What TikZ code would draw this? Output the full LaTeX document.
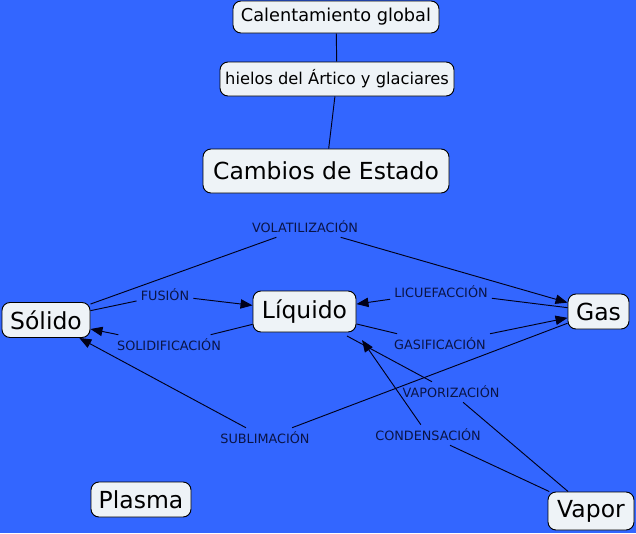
\documentclass[tikz,border=0pt]{standalone}
\usepackage{fontspec}
\setmainfont{DejaVu Sans}
\usetikzlibrary{arrows.meta}
\definecolor{bg}{RGB}{51,102,255}
\definecolor{boxfill}{RGB}{238,243,247}
\definecolor{labtext}{RGB}{10,20,70}
\tikzset{
  concept/.style={draw=black, fill=boxfill, rounded corners=6pt, line width=0.7pt, inner sep=1pt, text=black},
  big/.style={concept, font=\fontsize{17.6}{20}\selectfont},
  linklab/.style={font=\fontsize{9.6}{11}\selectfont, text=labtext, inner sep=3pt},
  conn/.style={draw=black!90!blue, line width=0.7pt},
  arr/.style={conn, -{Triangle[length=9pt,width=7pt]}}
}
\begin{document}
\begin{tikzpicture}[x=0.75pt,y=-0.75pt]
\fill[bg] (0,0) rectangle (636,533);
\useasboundingbox (0,0) rectangle (636,533);
% concepts
\node[concept, font=\fontsize{13.3}{15}\selectfont, minimum width=154.5pt, minimum height=24pt] (cal) at (336,17) {Calentamiento global};
\node[concept, font=\fontsize{12.2}{15}\selectfont, minimum width=175.5pt, minimum height=25.5pt] (hie) at (337,79) {hielos del Ártico y glaciares};
\node[big, minimum width=184.5pt, minimum height=33pt] (cam) at (326,171) {Cambios de Estado};
\node[big, minimum width=66pt, minimum height=26.25pt] (sol) at (46,320) {Sólido};
\node[big, minimum width=77.25pt, minimum height=30.75pt] (liq) at (304.5,311.5) {Líquido};
\node[big, minimum width=45.75pt, minimum height=26.25pt] (gas) at (598.5,311.5) {Gas};
\node[big, minimum width=64.5pt, minimum height=28.5pt] (vap) at (591,511) {Vapor};
\node[big, minimum width=75pt, minimum height=26.25pt] (pla) at (141,499.5) {Plasma};
\coordinate (liqc) at (362,340);
\coordinate (liqv) at (347,336);
% link labels
\node[linklab] (vol) at (305,227) {VOLATILIZACIÓN};
\node[linklab] (fus) at (165,295) {FUSIÓN};
\node[linklab] (sdf) at (169,345) {SOLIDIFICACIÓN};
\node[linklab] (lic) at (441,292) {LICUEFACCIÓN};
\node[linklab] (gsf) at (440,344) {GASIFICACIÓN};
\node[linklab] (vpz) at (451,392) {VAPORIZACIÓN};
\node[linklab] (cnd) at (428,435) {CONDENSACIÓN};
\node[linklab] (sub) at (265,438) {SUBLIMACIÓN};
% connectors
\draw[conn] (cal) -- (hie);
\draw[conn] (hie) -- (cam);
\draw[conn] (sol) -- (vol); \draw[arr] (vol) -- (gas);
\draw[conn] (sol) -- (fus); \draw[arr] (fus) -- (liq);
\draw[conn] (liq) -- (sdf); \draw[arr] (sdf) -- (sol);
\draw[conn] (gas) -- (lic); \draw[arr] (lic) -- (liq);
\draw[conn] (liq) -- (gsf); \draw[arr] (gsf) -- (gas);
\draw[conn] (gas) -- (sub); \draw[arr] (sub) -- (sol);
\draw[conn] (liqv) -- (vpz); \draw[conn] (vpz) -- (vap);
\draw[conn] (vap) -- (cnd); \draw[arr] (cnd) -- (liqc);
\end{tikzpicture}
\end{document}
